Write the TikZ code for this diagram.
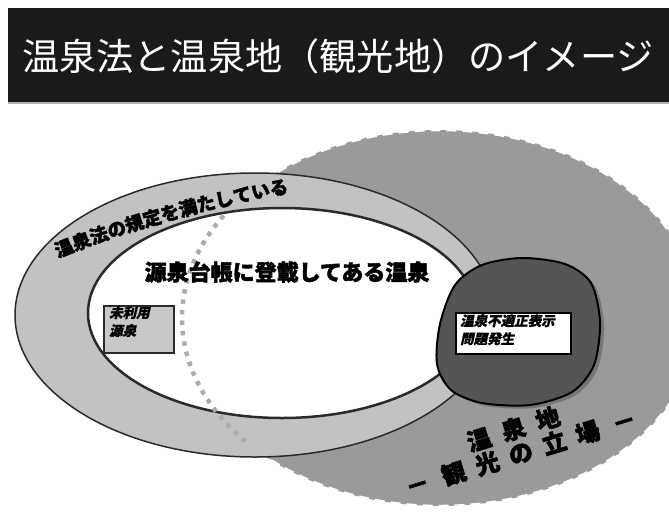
\documentclass[tikz,border=0pt]{standalone}
\usepackage{fontspec}
\setmainfont{Noto Sans CJK JP}
\newfontfamily\jpheavy{Noto Sans CJK JP}[FakeBold=2]
\newfontfamily\jpslant{Noto Sans CJK JP}[FakeSlant=0.22,FakeBold=1.2]
\usetikzlibrary{decorations.text}
\definecolor{titlebg}{HTML}{1A1A1A}
\definecolor{biggray}{HTML}{9A9A9A}
\definecolor{ringgray}{HTML}{C2C2C2}
\definecolor{blobgray}{HTML}{555555}
\definecolor{shadowgray}{HTML}{767676}
\definecolor{dotgray}{HTML}{ABABAB}
\definecolor{boxgray}{HTML}{C8C8C8}
\definecolor{edgecol}{HTML}{2A2A2A}
\begin{document}
\begin{tikzpicture}[x=1pt,y=1pt,
  labelbox/.style={draw=edgecol, line width=1.5pt, inner sep=0pt, anchor=north west},
  smalltext/.style={font=\jpslant\bfseries\fontsize{13.5}{18}\selectfont, align=left, anchor=north west, inner sep=0pt},
  bigtext/.style={font=\jpheavy\bfseries\fontsize{22}{22}\selectfont},
  placetext/.style={font=\jpheavy\bfseries\fontsize{24}{25}\selectfont, rotate=17, align=center, inner sep=0pt}
]
\useasboundingbox (0,0) rectangle (669,-512);
\fill[white] (0,0) rectangle (669,-512);
% title bar
\fill[titlebg] (8,-8) rectangle (669,-102);
\draw[gray!60, line width=1.5pt] (8,-103) -- (669,-103);
\node[text=white, font=\fontsize{37.2}{37.2}\selectfont, inner sep=0pt] (title) at (338,-56) {温泉法と温泉地（観光地）のイメージ};
% large area: hot spring resort (tourism view)
\filldraw[fill=biggray, draw=white, line width=2.5pt, dash pattern=on 10pt off 6pt] (440,-318) ellipse[x radius=258, y radius=188];
% ring: satisfies the hot spring law
\filldraw[fill=ringgray, draw=edgecol, line width=1.5pt] (255,-315) ellipse[x radius=240, y radius=142];
% inner: registered sources
\filldraw[fill=white, draw=edgecol, line width=2.5pt] (282,-313) ellipse[x radius=194, y radius=105];
% dotted boundary of the resort area
\draw[dotgray, line width=4.5pt, dash pattern=on 4.5pt off 6pt] (440,-318) ++(147:258 and 188) arc[start angle=147, end angle=221, x radius=258, y radius=188];
% curved ring label
\path[decorate, decoration={text along path, text align=left,
  text={|\jpheavy\bfseries\fontsize{18.5}{18.5}\selectfont|温泉法の規定を満たしている}}]
  (58,-258) .. controls (100,-240) and (200,-207) .. (300,-191);
% main label
\node[bigtext] (registered) at (287,-272) {源泉台帳に登載してある温泉};
% unused source box
\node[labelbox, fill=boxgray, minimum width=70pt, minimum height=47pt] (unusedbox) at (103,-305) {};
\node[smalltext] (unused) at (109,-306) {未利用\\源泉};
% problem blob
\fill[shadowgray, xshift=4pt, yshift=-3pt] plot[smooth cycle] coordinates {(455,-285) (482,-265) (522,-258) (565,-264) (591,-283) (600,-322) (594,-365) (572,-392) (530,-405) (482,-403) (451,-390) (437,-364) (440,-324)};
\filldraw[fill=blobgray, draw=black, line width=2pt] plot[smooth cycle] coordinates {(455,-285) (482,-265) (522,-258) (565,-264) (591,-283) (600,-322) (594,-365) (572,-392) (530,-405) (482,-403) (451,-390) (437,-364) (440,-324)};
\node[labelbox, fill=white, draw=black, minimum width=115pt, minimum height=41pt] (problembox) at (455,-312) {};
\node[smalltext] (problem) at (460,-314) {温泉不適正表示\\問題発生};
% resort label
\node[placetext] (resort) at (517,-441) {温\hspace{12pt}泉\hspace{12pt}地\\－\hspace{14pt}観\hspace{11pt}光\hspace{11pt}の\hspace{11pt}立\hspace{11pt}場\hspace{14pt}－};
\end{tikzpicture}
\end{document}
